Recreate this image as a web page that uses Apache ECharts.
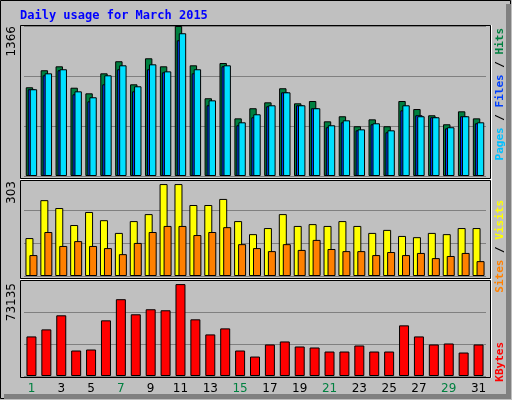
<!DOCTYPE html>
<html><head><meta charset="utf-8">
<script src="https://cdn.jsdelivr.net/npm/echarts@6/dist/echarts.min.js"></script>
<style>html,body{margin:0;padding:0;background:#c0c0c0}#c{width:512px;height:400px}</style>
</head><body><div id="c"></div>
<script>
var days = ['1','2','3','4','5','6','7','8','9','10','11','12','13','14','15','16','17','18','19','20','21','22','23','24','25','26','27','28','29','30','31'];
var weekends = ['1','7','8','14','15','21','22','28','29'];
var hits = [808,963,999,804,753,935,1045,835,1072,999,1366,1008,708,1029,525,617,671,799,662,683,498,544,453,516,453,683,610,553,471,589,525];
var files = [790,935,972,771,717,917,1008,817,1017,953,1300,972,689,1008,489,562,644,762,644,617,462,507,425,480,416,644,544,535,444,544,489];
var pages = [790,917,963,744,680,835,972,771,972,944,1236,935,644,999,462,535,635,762,644,617,444,489,416,471,398,598,553,535,434,544,480];
var visits = [125,250,224,168,211,184,142,181,204,303,303,234,234,254,181,138,158,204,165,171,165,181,165,142,152,132,128,142,138,158,158];
var sites = [69,145,99,115,99,92,72,109,145,165,165,135,145,161,105,92,82,105,86,119,89,82,82,69,79,69,76,59,66,76,49];
var kbytes = [31494,37099,48309,20284,21085,44305,61120,49110,53113,52312,73135,45106,33096,37900,20284,15480,25089,27491,23487,22687,19484,19484,24288,19484,19484,40302,31494,25089,25889,18683,25089];
var maxLabels = ['1366','303','73135'];

var ch = echarts.init(document.getElementById('c'), null, {renderer:'canvas'});
var grids = [
  {left:24, width:462, top:26, height:150},
  {left:24, width:462, top:178, height:98},
  {left:24, width:462, top:280, height:96}
];
var maxes = [1366, 323, 76400];
function xa(i){
  return {type:'category', gridIndex:i, data:days, axisLine:{show:false}, axisTick:{show:false},
    axisLabel:{show:i===2, margin:7, fontFamily:'DejaVu Sans', fontSize:12,
      color:function(v){return weekends.indexOf(v)>=0?'#008040':'#000';}}};
}
function ya(i){
  return {type:'value', gridIndex:i, min:0, max:maxes[i], interval:maxes[i]/3,
    axisLabel:{show:false}, axisLine:{show:false}, axisTick:{show:false},
    splitLine:{show:true, lineStyle:{color:'#808080', width:1}}};
}
var bs = {borderColor:'#000', borderWidth:1};
function bar(name, data, idx, color, w, gap){
  var s = {type:'bar', name:name, data:data, xAxisIndex:idx, yAxisIndex:idx, barWidth:w,
    itemStyle:Object.assign({color:color}, bs), animation:false, silent:true};
  if(gap!==undefined) s.barGap = gap;
  return s;
}
function vtext(x, y, rich, parts, font){
  return {type:'text', x:x, y:y, rotation:Math.PI/2,
    style:{text:parts, align:'right', verticalAlign:'middle', font:font, rich:rich}};
}
var mono = 'bold 11px "DejaVu Sans Mono"';
var graphic = [
  {type:'rect', shape:{x:0.5,y:0.5,width:510,height:398}, style:{fill:'none', stroke:'#000', lineWidth:1}},
  {type:'rect', shape:{x:506,y:4,width:5,height:395}, style:{fill:'#808080'}},
  {type:'rect', shape:{x:4,y:394,width:507,height:5}, style:{fill:'#808080'}},
  {type:'text', x:20, y:16, style:{text:'Daily usage for March 2015', font:'bold 12px "DejaVu Sans Mono"', fill:'#0000ff', verticalAlign:'middle'}},
  {type:'rect', shape:{x:20.5,y:25.5,width:470,height:153}, style:{fill:'none', stroke:'#000', lineWidth:1}, z:10},
  {type:'rect', shape:{x:20.5,y:180.5,width:470,height:98}, style:{fill:'none', stroke:'#000', lineWidth:1}, z:10},
  {type:'rect', shape:{x:20.5,y:280.5,width:470,height:97}, style:{fill:'none', stroke:'#000', lineWidth:1}, z:10},
  {type:'line', shape:{x1:20,y1:179.5,x2:491,y2:179.5}, style:{stroke:'#fff'}, z:10},
  {type:'line', shape:{x1:20,y1:279.5,x2:491,y2:279.5}, style:{stroke:'#fff'}, z:10},
  {type:'line', shape:{x1:491.5,y1:25,x2:491.5,y2:378}, style:{stroke:'#fff'}, z:10},
  {type:'text', x:12, y:26, rotation:Math.PI/2, style:{text:maxLabels[0], align:'right', verticalAlign:'middle', font:'12px "DejaVu Sans"', fill:'#000'}},
  {type:'text', x:12, y:181, rotation:Math.PI/2, style:{text:maxLabels[1], align:'right', verticalAlign:'middle', font:'12px "DejaVu Sans"', fill:'#000'}},
  {type:'text', x:12, y:283, rotation:Math.PI/2, style:{text:maxLabels[2], align:'right', verticalAlign:'middle', font:'12px "DejaVu Sans"', fill:'#000'}},
  vtext(500, 28, {p:{fill:'#00c0ff',font:mono},f:{fill:'#0040ff',font:mono},h:{fill:'#008040',font:mono},s:{fill:'#000',font:mono}},
    '{p|Pages}{s| / }{f|Files}{s| / }{h|Hits}', mono),
  vtext(500, 200, {a:{fill:'#ff8000',font:mono},b:{fill:'#ffff00',font:mono},s:{fill:'#000',font:mono}},
    '{a|Sites}{s| / }{b|Visits}', mono),
  {type:'text', x:500, y:342, rotation:Math.PI/2, style:{text:'KBytes', align:'right', verticalAlign:'middle', font:mono, fill:'#ff0000'}}
];
ch.setOption({
  animation:false,
  grid:grids,
  xAxis:[xa(0),xa(1),xa(2)],
  yAxis:[ya(0),ya(1),ya(2)],
  graphic:graphic,
  series:[
    bar('Hits', hits, 0, '#008040', 7.4, '-73%'),
    bar('Pages', pages, 0, '#0040ff', 7.4, '-73%'),
    bar('Files', files, 0, '#00e0ff', 7.4, '-73%'),
    bar('Visits', visits, 1, '#ffff00', 8, '-50%'),
    bar('Sites', sites, 1, '#ff8000', 8, '-50%'),
    bar('KBytes', kbytes, 2, '#ff0000', 10)
  ]
});
</script></body></html>
